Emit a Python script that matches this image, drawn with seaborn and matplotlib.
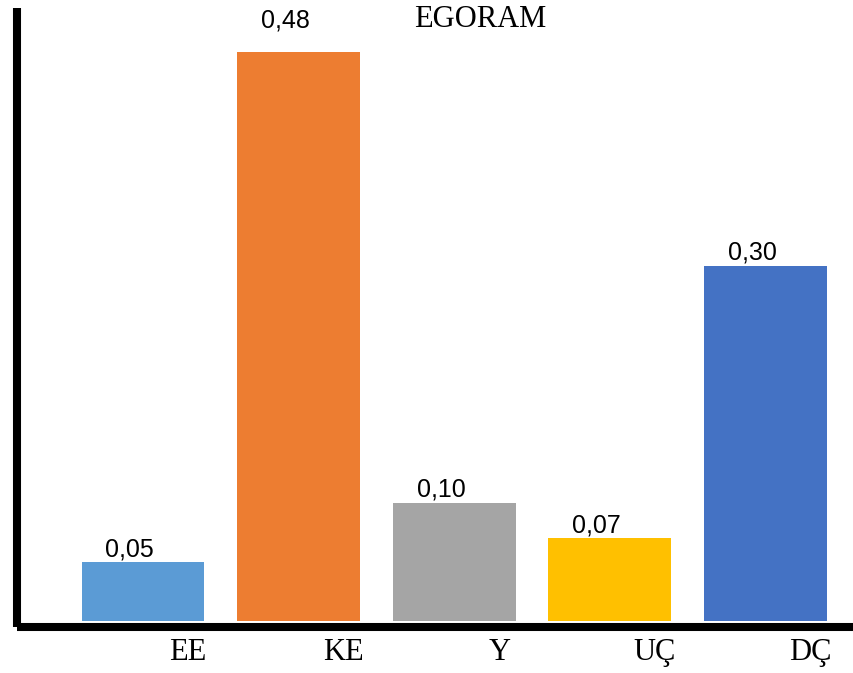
import numpy as np
import pandas as pd
import matplotlib
matplotlib.use("Agg")
import matplotlib.pyplot as plt
import seaborn as sns

categories = ["EE", "KE", "Y", "UÇ", "DÇ"]
values = [0.05, 0.48, 0.10, 0.07, 0.30]
colors = ["#5B9BD5", "#ED7D31", "#A5A5A5", "#FFC000", "#4472C4"]
value_labels = ["0,05", "0,48", "0,10", "0,07", "0,30"]

sns.set_style("white")
plt.rcParams["font.family"] = ["Liberation Serif", "DejaVu Serif"]
plt.rcParams["text.color"] = "black"
plt.rcParams["xtick.color"] = "black"

df = pd.DataFrame({"cat": categories, "val": values})

fig = plt.figure(figsize=(8.54, 6.73), dpi=100)
W, H = 854, 673
# axes box in pixels: left 17, right 854, top 8, bottom 627
ax = fig.add_axes([17 / W, (H - 627) / H, (W - 17) / W, (627 - 8) / H])

sns.barplot(data=df, x="cat", y="val", hue="cat", palette=colors,
            width=0.79, legend=False, ax=ax, saturation=1, linewidth=0)

scale = 1185.0  # px per unit
ax.set_ylim(-6 / scale, (621 - 8) / scale)
ax.set_xlim(-0.81, 4.57)

for sp in ["top", "right"]:
    ax.spines[sp].set_visible(False)
for sp in ["left", "bottom"]:
    ax.spines[sp].set_color("black")
    ax.spines[sp].set_linewidth(5.8)
    ax.spines[sp].set_capstyle("butt")

ax.set_yticks([])
ax.set_xticks(np.arange(len(categories)) + 0.29)
ax.set_xticklabels(categories, fontsize=22, family=["Liberation Serif"],
                   color="black")
ax.tick_params(axis="x", length=0, pad=8)
ax.set_xlabel("")
ax.set_ylabel("")

for i, (v, lab) in enumerate(zip(values, value_labels)):
    off = 18 if v == max(values) else 4
    ax.annotate(lab, (i, v), xytext=(-9.5, off), textcoords="offset points",
                ha="center", va="baseline", fontsize=18, color="black",
                family=["Liberation Sans", "DejaVu Sans"])

fig.text(480 / W, (H - 27) / H, "EGORAM", ha="center", va="baseline",
         fontsize=22, color="black", family=["Liberation Serif"])

fig.savefig("out.png", dpi=100)
